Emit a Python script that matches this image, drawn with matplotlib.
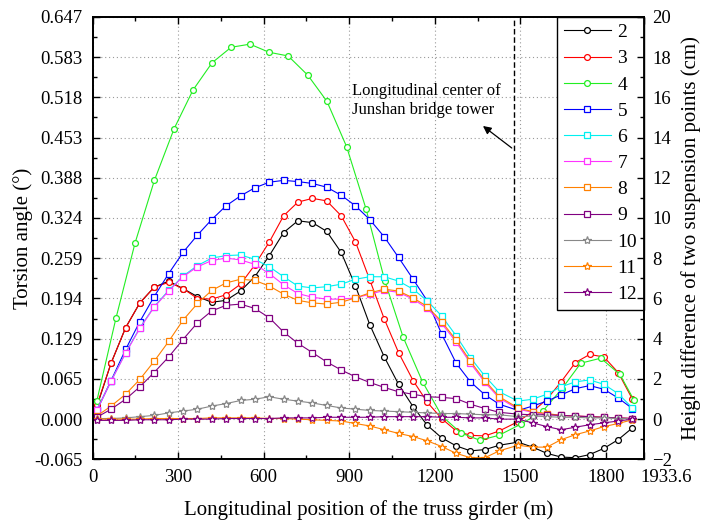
import matplotlib
matplotlib.use("Agg")

import matplotlib.pyplot as plt
from matplotlib.ticker import FixedLocator, MultipleLocator
from matplotlib.transforms import ScaledTranslation

# ------------------------------------------------------------------
# data (torsion angle in degrees)
# ------------------------------------------------------------------
x_pos = [15, 65, 116, 166, 216, 267, 317, 368, 418, 468, 519, 569, 620, 670,
         720, 771, 821, 872, 922, 972, 1023, 1073, 1124, 1174, 1224, 1275,
         1325, 1376, 1426, 1492, 1543, 1593, 1643, 1693, 1743, 1793, 1843, 1893]
x_pos_4 = [15, 82, 149, 217, 286, 352, 419, 486, 552, 619, 686, 755, 822, 891,
           959, 1025, 1089, 1157, 1225, 1291, 1358, 1425, 1502, 1579, 1646,
           1712, 1782, 1849, 1898]

angle_2 = [0.020, 0.090, 0.147, 0.187, 0.212, 0.222, 0.210, 0.197, 0.188, 0.191,
           0.206, 0.229, 0.263, 0.300, 0.319, 0.316, 0.302, 0.268, 0.214, 0.152,
           0.100, 0.056, 0.020, -0.010, -0.030, -0.043, -0.051, -0.049, -0.042,
           -0.037, -0.045, -0.055, -0.061, -0.062, -0.057, -0.047, -0.033, -0.014]
angle_3 = [0.022, 0.090, 0.147, 0.187, 0.212, 0.220, 0.210, 0.194, 0.193, 0.200,
           0.217, 0.248, 0.285, 0.327, 0.349, 0.355, 0.351, 0.327, 0.285, 0.224,
           0.161, 0.107, 0.062, 0.027, 0.001, -0.019, -0.026, -0.027, -0.019,
           -0.004, 0.012, 0.032, 0.060, 0.091, 0.104, 0.100, 0.075, 0.032]
angle_4 = [0.029, 0.162, 0.283, 0.384, 0.467, 0.529, 0.573, 0.598, 0.603, 0.590,
           0.584, 0.553, 0.511, 0.438, 0.338, 0.222, 0.132, 0.060, 0.005, -0.022,
           -0.034, -0.026, -0.008, 0.013, 0.049, 0.090, 0.098, 0.072, 0.031]
angle_5 = [0.014, 0.062, 0.112, 0.157, 0.197, 0.234, 0.268, 0.296, 0.321, 0.343,
           0.359, 0.372, 0.381, 0.384, 0.382, 0.379, 0.373, 0.360, 0.343, 0.321,
           0.293, 0.260, 0.225, 0.190, 0.137, 0.090, 0.060, 0.039, 0.024, 0.014,
           0.021, 0.029, 0.039, 0.049, 0.054, 0.048, 0.034, 0.017]
angle_6 = [0.014, 0.061, 0.107, 0.147, 0.181, 0.207, 0.230, 0.247, 0.259, 0.263,
           0.264, 0.257, 0.245, 0.229, 0.214, 0.211, 0.213, 0.217, 0.225, 0.229,
           0.229, 0.222, 0.209, 0.190, 0.166, 0.134, 0.099, 0.069, 0.044, 0.029,
           0.032, 0.040, 0.052, 0.060, 0.063, 0.056, 0.041, 0.018]
angle_7 = [0.014, 0.061, 0.106, 0.146, 0.180, 0.206, 0.229, 0.245, 0.255, 0.259,
           0.256, 0.249, 0.234, 0.216, 0.202, 0.196, 0.193, 0.193, 0.195, 0.201,
           0.207, 0.204, 0.193, 0.178, 0.154, 0.124, 0.090, 0.059, 0.034, 0.016,
           0.011, 0.008, 0.006, 0.005, 0.004, 0.003, 0.002, 0.001]
angle_8 = [0.005, 0.021, 0.040, 0.064, 0.093, 0.125, 0.159, 0.186, 0.207, 0.219,
           0.225, 0.223, 0.214, 0.201, 0.191, 0.187, 0.185, 0.188, 0.195, 0.203,
           0.209, 0.206, 0.195, 0.181, 0.157, 0.127, 0.093, 0.062, 0.036, 0.018,
           0.012, 0.009, 0.006, 0.005, 0.004, 0.003, 0.002, 0.001]
angle_9 = [0.003, 0.016, 0.032, 0.052, 0.075, 0.100, 0.128, 0.155, 0.174, 0.183,
           0.185, 0.178, 0.163, 0.140, 0.122, 0.107, 0.092, 0.079, 0.068, 0.059,
           0.051, 0.044, 0.040, 0.036, 0.035, 0.033, 0.024, 0.017, 0.011, 0.008,
           0.007, 0.007, 0.006, 0.005, 0.004, 0.003, 0.002, 0.001]
angle_10 = [0.001, 0.001, 0.002, 0.004, 0.006, 0.010, 0.013, 0.016, 0.021, 0.025,
            0.030, 0.032, 0.036, 0.032, 0.029, 0.026, 0.022, 0.018, 0.016, 0.014,
            0.013, 0.012, 0.011, 0.010, 0.009, 0.009, 0.008, 0.007, 0.007, 0.004,
            0.005, 0.004, 0.003, 0.003, 0.002, 0.002, 0.001, 0.001]
angle_11 = [0.000, 0.000, 0.000, 0.000, 0.001, 0.001, 0.001, 0.001, 0.002, 0.002,
            0.002, 0.002, 0.001, 0.001, 0.000, -0.001, -0.002, -0.003, -0.007,
            -0.011, -0.017, -0.023, -0.028, -0.035, -0.044, -0.055, -0.062,
            -0.062, -0.051, -0.042, -0.045, -0.045, -0.033, -0.025, -0.019,
            -0.012, -0.007, -0.001]
angle_12 = [-0.002, -0.002, -0.002, -0.001, -0.001, -0.001, 0.000, 0.000, 0.000,
            0.001, 0.001, 0.001, 0.001, 0.002, 0.002, 0.002, 0.003, 0.003, 0.003,
            0.003, 0.004, 0.004, 0.004, 0.004, 0.003, 0.003, 0.002, 0.002, 0.000,
            0.000, -0.006, -0.012, -0.017, -0.013, -0.009, -0.006, -0.003, 0.000]

series_labels = ["2", "3", "4", "5", "6", "7", "8", "9", "10", "11", "12"]
series_colors = ["black", "#ff0000", "#22ee22", "#0000ff", "#00f0f0", "#ff33ff",
                 "#ff8000", "#800080", "#888888", "#ff8000", "#800080"]
series_markers = ["o", "o", "o", "s", "s", "s", "s", "s", "*", "*", "*"]

x_ticks = [0, 300, 600, 900, 1200, 1500, 1800, 1933.6]
x_tick_labels = ["0", "300", "600", "900", "1200", "1500", "1800", "1933.6"]
y_ticks = [-0.0647, 0.0, 0.0647, 0.1294, 0.1941, 0.2588, 0.3235, 0.3882,
           0.4529, 0.5176, 0.5823, 0.647]
y_tick_labels = ["-0.065", "0.000", "0.065", "0.129", "0.194", "0.259", "0.324",
                 "0.388", "0.453", "0.518", "0.583", "0.647"]
height_ticks = [-2, 0, 2, 4, 6, 8, 10, 12, 14, 16, 18, 20]

tower_x = 1478
note_text = "Longitudinal center of\nJunshan bridge tower"

# ------------------------------------------------------------------
# plotting
# ------------------------------------------------------------------
plt.rcParams["font.family"] = ["Liberation Serif", "DejaVu Serif"]

fig = plt.figure(figsize=(7.03, 5.25), dpi=100)
ax = fig.add_axes([0.1316, 0.125, 0.7845, 0.843])

all_angles = [angle_2, angle_3, angle_4, angle_5, angle_6, angle_7, angle_8,
              angle_9, angle_10, angle_11, angle_12]
for label, color, marker, values in zip(series_labels, series_colors,
                                        series_markers, all_angles):
    xs = x_pos_4 if label == "4" else x_pos
    ms = 6 if marker == "*" else 4.2
    ax.plot(xs, values, color=color, lw=0.8, marker=marker, ms=ms,
            mfc="white", mec=color, mew=0.9, label=label)

ax.axvline(tower_x, color="black", lw=1.0, ls=(0, (4, 2)))
ax.text(910, 0.541, note_text, fontsize=12, va="top", ha="left",
        linespacing=1.25)
ax.annotate("", xy=(1369, 0.4714), xytext=(1470, 0.436),
            arrowprops=dict(arrowstyle="-|>", color="black", lw=0.9,
                            mutation_scale=12, shrinkA=0, shrinkB=0))

ax.set_xlim(0, 1933.6)
ax.set_ylim(-0.0647, 0.647)
ax.set_xticks(x_ticks)
ax.set_xticklabels(x_tick_labels)
ax.xaxis.set_minor_locator(MultipleLocator(150))
ax.set_yticks(y_ticks)
ax.set_yticklabels(y_tick_labels)
ax.yaxis.set_minor_locator(FixedLocator([t + 0.03235 for t in y_ticks[:-1]]))
ax.grid(True, which="major", color="#999999", lw=0.8, ls=(0, (1, 2.5)))
ax.tick_params(which="both", direction="in", top=True, right=False,
               labelsize=13.5, width=1.0)
ax.tick_params(which="major", length=5, pad=7)
ax.tick_params(which="minor", length=3)
for spine in ax.spines.values():
    spine.set_linewidth(1.3)

# the last x label sits a little to the right of its tick, as in the original
last_label = ax.get_xticklabels()[-1]
last_label.set_transform(last_label.get_transform()
                         + ScaledTranslation(0.22, 0, fig.dpi_scale_trans))

ax.set_xlabel("Longitudinal position of the truss girder (m)", fontsize=15,
              labelpad=10)
ax.set_ylabel("Torsion angle (°)", fontsize=15, labelpad=1)

ax2 = ax.twinx()
ax2.set_ylim(-2, 20)
ax2.set_yticks(height_ticks)
ax2.yaxis.set_minor_locator(MultipleLocator(1))
ax2.tick_params(which="both", direction="in", labelsize=13.5, width=1.0)
ax2.tick_params(which="major", length=5, pad=6)
ax2.tick_params(which="minor", length=3)
ax2.set_ylabel("Height difference of two suspension points (cm)", fontsize=15,
               labelpad=6)
for spine in ax2.spines.values():
    spine.set_linewidth(1.3)

leg = ax.legend(loc="upper right", borderaxespad=0, fontsize=14,
                handlelength=2.4, handletextpad=0.35, labelspacing=0.44,
                borderpad=0.35, fancybox=False, framealpha=1,
                edgecolor="black")
leg.get_frame().set_linewidth(1.0)

fig.savefig("out.png", dpi=100)
